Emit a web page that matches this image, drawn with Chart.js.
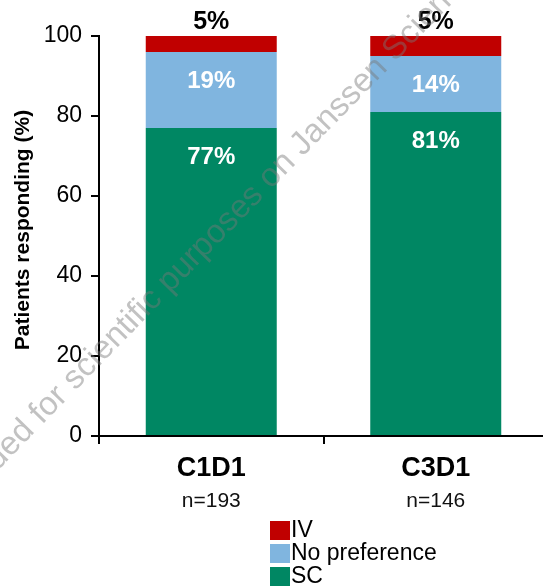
<!DOCTYPE html>
<html>
<head>
<meta charset="utf-8">
<script src="https://cdn.jsdelivr.net/npm/chart.js@4/dist/chart.umd.min.js"></script>
<style>
  html, body { margin: 0; padding: 0; background: #fff; }
  #wrap { width: 543px; height: 587px; }
</style>
</head>
<body>
<div id="wrap"><canvas id="c" width="543" height="587"></canvas></div>
<script>
// Treatment preference by visit
const categories = ['C1D1', 'C3D1'];
const sampleSizes = ['n=193', 'n=146'];
const seriesNames = ['SC', 'No preference', 'IV'];
const scValues = [77, 81];
const noPrefValues = [19, 14];
const ivValues = [5, 5];
const yTickStep = 20;
const yMin = 0;
const yMax = 100;
const yTitle = 'Patients responding (%)';
const watermarkText = 'Provided for scientific purposes on Janssen Science';

const FONT = '"Liberation Sans", Arial, Helvetica, sans-serif';
const COLORS = { sc: '#008763', np: '#80B5DF', iv: '#C00000' };

// Let the category axis run a few pixels past the right edge of the canvas
const widenX = {
  id: 'widenX',
  afterLayout(chart) {
    const xs = chart.scales.x;
    xs.right = xs.left + 449;
    xs.width = 449;
    xs.configure();
  }
};

// Percent labels: inside the SC / No preference segments, above the IV segment
const valueLabels = {
  id: 'valueLabels',
  afterDatasetsDraw(chart) {
    const ctx = chart.ctx;
    const top = chart.chartArea.top;
    ctx.save();
    ctx.textAlign = 'center';
    ctx.textBaseline = 'middle';
    chart.data.datasets.forEach((ds, di) => {
      const meta = chart.getDatasetMeta(di);
      meta.data.forEach((el, i) => {
        const txt = ds.data[i] + '%';
        if (di === 2) {
          ctx.fillStyle = '#000';
          ctx.font = 'bold 25px ' + FONT;
          ctx.fillText(txt, el.x, Math.max(el.y, top) - 14);
        } else {
          ctx.fillStyle = '#fff';
          ctx.font = 'bold 24px ' + FONT;
          ctx.fillText(txt, el.x, el.y + 29);
        }
      });
    });
    ctx.restore();
  }
};

// Axis title, sample sizes, legend and the diagonal notice
const extras = {
  id: 'extras',
  afterDraw(chart) {
    const ctx = chart.ctx;
    const xs = chart.scales.x;
    ctx.save();

    // y axis title
    ctx.save();
    ctx.translate(23, 230);
    ctx.rotate(-Math.PI / 2);
    ctx.font = 'bold 21px ' + FONT;
    ctx.fillStyle = '#000';
    ctx.textAlign = 'center';
    ctx.textBaseline = 'middle';
    ctx.fillText(yTitle, 0, 0);
    ctx.restore();

    // sample sizes
    ctx.fillStyle = '#111';
    ctx.font = '21px ' + FONT;
    ctx.textAlign = 'center';
    ctx.textBaseline = 'middle';
    sampleSizes.forEach((s, i) => {
      ctx.fillText(s, xs.getPixelForValue(i), 501);
    });

    // stacked legend, top series first
    const lx = 270, ly = 521, rowH = 23;
    ctx.font = '23px ' + FONT;
    ctx.textAlign = 'left';
    const order = chart.data.datasets.map((d, i) => i).reverse();
    order.forEach((di, r) => {
      const ds = chart.data.datasets[di];
      const y = ly + r * rowH;
      ctx.fillStyle = ds.backgroundColor;
      ctx.fillRect(lx, y, 20, 19);
      ctx.fillStyle = '#000';
      ctx.fillText(ds.label, lx + 21, y + 10);
    });

    // diagonal notice
    ctx.font = '33px ' + FONT;
    ctx.fillStyle = 'rgba(120,120,120,0.45)';
    ctx.textBaseline = 'alphabetic';
    ctx.translate(10, 458);
    ctx.rotate(-45.8 * Math.PI / 180);
    const lead = ctx.measureText('Provid').width;
    ctx.fillText(watermarkText, -lead, 0);

    ctx.restore();
  }
};

new Chart(document.getElementById('c'), {
  type: 'bar',
  data: {
    labels: categories,
    datasets: [
      { label: seriesNames[0], data: scValues, backgroundColor: COLORS.sc },
      { label: seriesNames[1], data: noPrefValues, backgroundColor: COLORS.np },
      { label: seriesNames[2], data: ivValues, backgroundColor: COLORS.iv }
    ].map(d => Object.assign(d, { borderWidth: 0, barPercentage: 0.5835, categoryPercentage: 1 }))
  },
  options: {
    responsive: false,
    animation: false,
    layout: { padding: { top: 36, right: 0, bottom: 104, left: 0 } },
    plugins: { legend: { display: false }, tooltip: { enabled: false } },
    scales: {
      x: {
        stacked: true,
        offset: true,
        grid: { display: true, offset: true, drawOnChartArea: false, drawTicks: true, tickLength: 8, color: '#000', lineWidth: 2 },
        border: { display: true, color: '#000', width: 2 },
        ticks: { color: '#000', font: { family: FONT, size: 27, weight: 'bold' }, padding: 8 },
        afterFit: s => { s.height = 47; }
      },
      y: {
        stacked: true,
        min: yMin,
        max: yMax,
        ticks: { stepSize: yTickStep, color: '#000', font: { family: FONT, size: 23 }, padding: 9 },
        grid: { drawOnChartArea: false, drawTicks: true, tickLength: 8, color: '#000', lineWidth: 2 },
        border: { display: true, color: '#000', width: 2 },
        title: { display: false },
        afterFit: s => { s.width = 99; }
      }
    }
  },
  plugins: [widenX, valueLabels, extras]
});
</script>
</body>
</html>
